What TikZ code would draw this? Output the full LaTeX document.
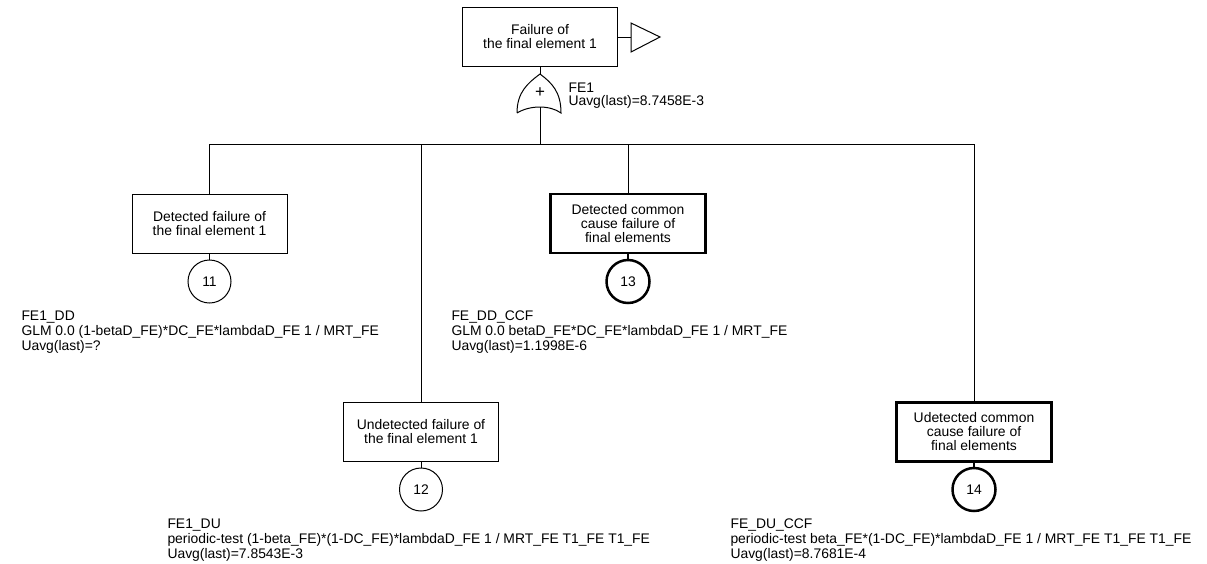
\documentclass[tikz,border=0pt]{standalone}
\usepackage{fontspec}
\setmainfont{Liberation Sans}
\begin{document}
\begin{tikzpicture}[x=1pt,y=-1pt,line width=1pt,
  evbox/.style={draw,rectangle,minimum width=155pt,minimum height=59pt,inner sep=0pt,align=center,font=\fontsize{13.9}{14}\selectfont},
  thickbox/.style={evbox,line width=2.5pt},
  evcirc/.style={draw,circle,minimum size=43pt,inner sep=0pt,font=\fontsize{13.9}{14}\selectfont},
  thickcirc/.style={evcirc,line width=2.5pt},
  info/.style={anchor=north west,inner sep=0pt,align=left,font=\fontsize{13.9}{15}\selectfont}]
\useasboundingbox (0,0) rectangle (1207,563);
\fill[white] (0,0) rectangle (1207,563);

% top event
\node[evbox] (top) at (540,36.5) {Failure of\\the final element 1};
\coordinate (tr) at (631,37);
\draw (top.east |- tr) -- (tr);
\draw (tr) -- (631,23) -- (660,37) -- (631,52) -- cycle;

% OR gate
\coordinate (gtop) at (540,74);
\coordinate (gbot) at (540,107);
\draw (517,113) .. controls (517,92) and (528,83) .. (gtop)
      .. controls (552,83) and (561,92) .. (561,113)
      .. controls (550,105) and (530,105) .. (517,113);
\node[font=\fontsize{17}{17}\selectfont,inner sep=0pt] (plus) at (540,93) {+};
\draw (top.south) -- (gtop);
\node[info,font=\fontsize{13.9}{13.5}\selectfont] (lfe1) at (568,82) {FE1\\Uavg(last)=8.7458E-3};

% basic events
\node[evbox] (b11) at (209.5,223.5) {Detected failure of\\the final element 1};
\node[thickbox] (b13) at (628,223.5) {Detected common\\cause failure of\\final elements};
\node[evbox] (b12) at (421,432) {Undetected failure of\\the final element 1};
\node[thickbox] (b14) at (974,432) {Udetected common\\cause failure of\\final elements};

\coordinate (bus) at (540,144);
\draw (gbot) -- (bus);
\draw (b11.north) -- (b11.north |- bus) -- (b14.north |- bus) -- (b14.north);
\draw (b12.north) -- (b12.north |- bus);
\draw (b13.north) -- (b13.north |- bus);

\node[evcirc] (c11) at (209.5,281.5) {11};
\node[thickcirc] (c13) at (628,281.5) {13};
\node[evcirc] (c12) at (421,489.5) {12};
\node[thickcirc] (c14) at (974,489.5) {14};
\draw (b11.south) -- (c11.north);
\draw[line width=2.5pt] (b13.south) -- (c13.north);
\draw (b12.south) -- (c12.north);
\draw[line width=2.5pt] (b14.south) -- (c14.north);

% info texts
\node[info] (l11) at (21,310) {FE1\_DD\\GLM 0.0 (1-betaD\_FE)*DC\_FE*lambdaD\_FE 1 / MRT\_FE\\Uavg(last)=?};
\node[info] (l13) at (451,310) {FE\_DD\_CCF\\GLM 0.0 betaD\_FE*DC\_FE*lambdaD\_FE 1 / MRT\_FE\\Uavg(last)=1.1998E-6};
\node[info] (l12) at (167,518) {FE1\_DU\\periodic-test (1-beta\_FE)*(1-DC\_FE)*lambdaD\_FE 1 / MRT\_FE T1\_FE T1\_FE\\Uavg(last)=7.8543E-3};
\node[info] (l14) at (730,518) {FE\_DU\_CCF\\periodic-test beta\_FE*(1-DC\_FE)*lambdaD\_FE 1 / MRT\_FE T1\_FE T1\_FE\\Uavg(last)=8.7681E-4};
\end{tikzpicture}
\end{document}
